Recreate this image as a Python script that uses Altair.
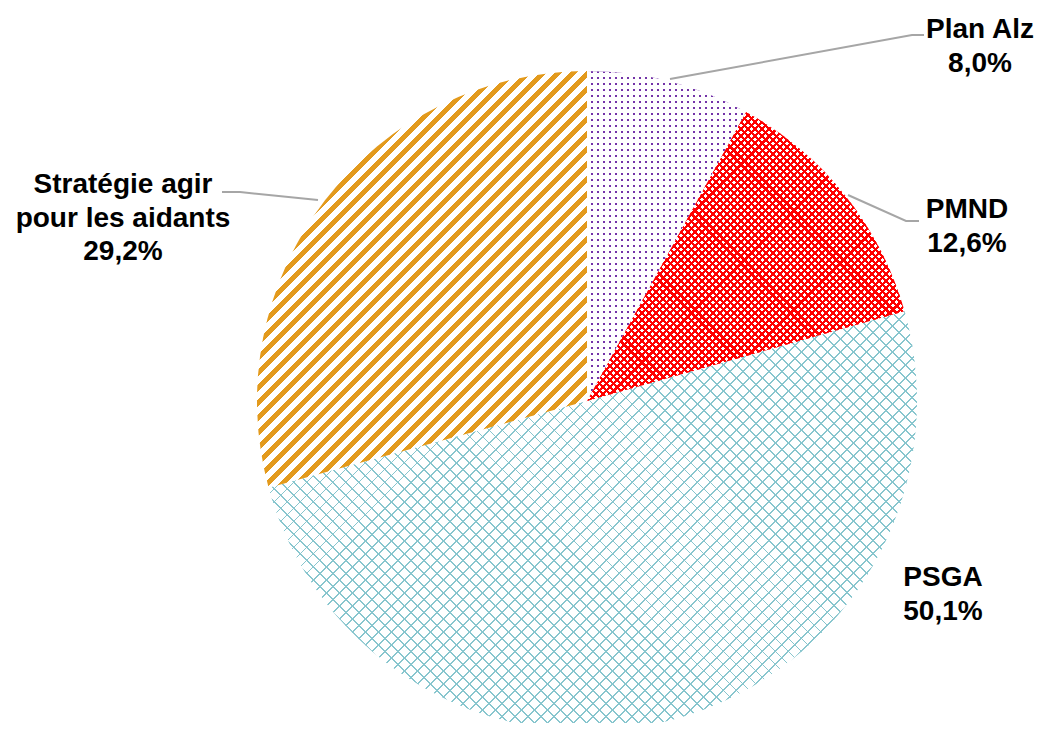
import math
import altair as alt
import pandas as pd

# ---------------- data ----------------
categories = ["Plan Alz", "PMND", "PSGA", "Stratégie agir pour les aidants"]
shares = [8.0, 12.6, 50.1, 29.2]
name_lines = [["Plan Alz"], ["PMND"], ["PSGA"], ["Stratégie agir", "pour les aidants"]]

# ---------------- layout / style ----------------
W, H = 1028, 715
CX, CY, R = 579, 393, 330
FONT = "Liberation Sans"
LINE_STEP = 33.5
label_pos = [(972, 30), (959, 210), (935, 578), (115, 185)]  # center x, first baseline
leader_pts = [
    [(662, 71), (904, 27), (916, 27)],
    [(840, 187), (898, 213), (911, 213)],
    [],
    [(214, 184), (232, 184), (310, 192)],
]
CLEAR = "rgba(255,255,255,0)"

df = pd.DataFrame({"idx": range(len(categories)), "cat": categories, "value": shares})

total = sum(shares)
bounds = []
acc = 0.0
for v in shares:
    a0 = acc / total * 2 * math.pi
    acc += v
    a1 = acc / total * 2 * math.pi
    bounds.append((a0, a1))


def arc_bbox(a0, a1, r):
    pts = [(0.0, 0.0), (r * math.sin(a0), -r * math.cos(a0)), (r * math.sin(a1), -r * math.cos(a1))]
    k = math.ceil(a0 / (math.pi / 2))
    while k * math.pi / 2 <= a1 + 1e-9:
        a = k * math.pi / 2
        pts.append((r * math.sin(a), -r * math.cos(a)))
        k += 1
    xs = [p[0] for p in pts]
    ys = [p[1] for p in pts]
    return max(xs) - min(xs), max(ys) - min(ys)


def make_stops(L, period, thick, color, bg=CLEAR, phase=0.0):
    stops = []
    s = phase
    while s < L:
        o1 = max(0.0, min(1.0, s / L))
        o2 = max(0.0, min(1.0, (s + thick) / L))
        stops += [(o1, bg), (o1, color), (o2, color), (o2, bg)]
        s += period
    if not stops:
        stops = [(0, bg), (1, bg)]
    return [alt.GradientStop(color=c, offset=round(o, 5)) for o, c in stops]


def stripes(kind, w, h, period, thick, color, bg=CLEAR):
    if kind == "h":  # horizontal stripes
        return alt.LinearGradient(gradient="linear", x1=0, y1=0, x2=0, y2=1,
                                  stops=make_stops(h, period, thick, color, bg))
    if kind == "v":  # vertical stripes
        return alt.LinearGradient(gradient="linear", x1=0, y1=0, x2=1, y2=0,
                                  stops=make_stops(w, period, thick, color, bg))
    r = h / w
    t = (1 + r) / (1 + r * r)
    L = t * (w + r * h) / math.sqrt(2)
    if kind == "/":
        return alt.LinearGradient(gradient="linear", x1=0, y1=0, x2=t, y2=t * r,
                                  stops=make_stops(L, period, thick, color, bg))
    # "\"
    return alt.LinearGradient(gradient="linear", x1=0, y1=1, x2=t, y2=1 - t * r,
                              stops=make_stops(L, period, thick, color, bg))


bb = [arc_bbox(a0, a1, R) for a0, a1 in bounds]

# pattern layers per slice: (slice index, gradient)
layers_spec = []
# Plan Alz: purple dots (horizontal purple stripes masked by white vertical stripes)
w, h = bb[0]
layers_spec.append((0, stripes("h", w, h, 6.0, 2.4, "#7333A8")))
layers_spec.append((0, stripes("v", w, h, 6.0, 3.6, "#FFFFFF")))
# PMND: red diagonal crosshatch
w, h = bb[1]
layers_spec.append((1, stripes("/", w, h, 5.0, 2.2, "#FF0000")))
layers_spec.append((1, stripes("\\", w, h, 5.0, 2.2, "#FF0000")))
# PSGA: light teal lattice
w, h = bb[2]
layers_spec.append((2, stripes("/", w, h, 9.2, 1.3, "#88C6CE")))
layers_spec.append((2, stripes("\\", w, h, 9.2, 1.3, "#88C6CE")))
# Stratégie: orange diagonal stripes
w, h = bb[3]
layers_spec.append((3, stripes("/", w, h, 10.6, 4.6, "#E39A1C")))

arcs = []
for k, grad in layers_spec:
    arcs.append(
        alt.Chart(df).mark_arc(fill=grad, radius=R).encode(
            theta=alt.Theta("value:Q", stack=True),
            order=alt.Order("idx:Q"),
            fillOpacity=alt.condition(f"datum.idx == {k}", alt.value(1), alt.value(0)),
            x=alt.value(CX),
            y=alt.value(CY),
        )
    )

# labels
rows = []
for i, (cat, v) in enumerate(zip(categories, shares)):
    lines = name_lines[i] + [f"{v:.1f}%".replace(".", ",")]
    x0, y0 = label_pos[i]
    for j, ln in enumerate(lines):
        rows.append({"x": x0, "y": y0 + j * LINE_STEP, "t": ln})
lab_df = pd.DataFrame(rows)

lrows = []
for i, pts in enumerate(leader_pts):
    for j, (x, y) in enumerate(pts):
        lrows.append({"g": i, "o": j, "x": x, "y": y})
lead_df = pd.DataFrame(lrows)

leaders = alt.Chart(lead_df).mark_line(color="#A6A6A6", strokeWidth=2).encode(
    x=alt.X("x:Q", scale=None, axis=None),
    y=alt.Y("y:Q", scale=None, axis=None),
    detail="g:N",
    order="o:Q",
)

texts = alt.Chart(lab_df).mark_text(
    font=FONT, fontWeight="bold", fontSize=28, align="center", baseline="alphabetic", color="#000000"
).encode(
    x=alt.X("x:Q", scale=None, axis=None),
    y=alt.Y("y:Q", scale=None, axis=None),
    text="t:N",
)

chart = alt.layer(*arcs, leaders, texts).properties(
    width=W, height=H, autosize=alt.AutoSizeParams(type="none"), padding=0
).configure_view(stroke=None)

chart.save("out.html", embed_options={"renderer": "svg", "actions": False})
